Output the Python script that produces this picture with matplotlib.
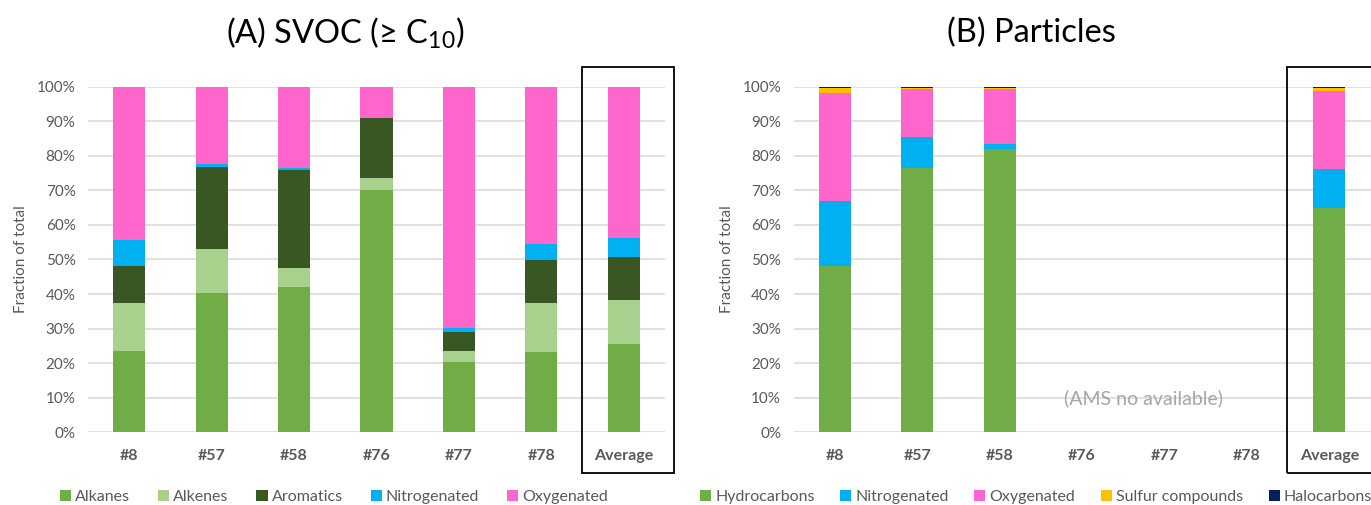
import matplotlib
matplotlib.use('agg')
import matplotlib.pyplot as plt
from matplotlib.patches import Rectangle, Patch
import numpy as np

plt.rcParams['font.family'] = ['Lato', 'DejaVu Sans']
plt.rcParams['mathtext.default'] = 'regular'

samples = ['#8', '#57', '#58', '#76', '#77', '#78', 'Average']

# SVOC (>= C10) composition, fraction of total
svoc_alkanes   = [0.235, 0.404, 0.420, 0.701, 0.204, 0.233, 0.255]
svoc_alkenes   = [0.140, 0.127, 0.054, 0.035, 0.031, 0.140, 0.128]
svoc_aromatics = [0.107, 0.237, 0.284, 0.174, 0.055, 0.126, 0.124]
svoc_nitrogen  = [0.074, 0.009, 0.007, 0.000, 0.013, 0.047, 0.056]
svoc_oxygen    = [0.444, 0.223, 0.235, 0.090, 0.697, 0.454, 0.437]

# particle phase composition (AMS), no data for #76-#78
pm_hydrocarbons = [0.481, 0.766, 0.821, 0, 0, 0, 0.650]
pm_nitrogen     = [0.188, 0.088, 0.014, 0, 0, 0, 0.111]
pm_oxygen       = [0.314, 0.138, 0.159, 0, 0, 0, 0.227]
pm_sulfur       = [0.014, 0.005, 0.003, 0, 0, 0, 0.008]
pm_halo         = [0.003, 0.003, 0.003, 0, 0, 0, 0.004]

svoc_series = [('Alkanes', svoc_alkanes, '#70AD47'),
               ('Alkenes', svoc_alkenes, '#A9D18E'),
               ('Aromatics', svoc_aromatics, '#385723'),
               ('Nitrogenated', svoc_nitrogen, '#00B0F0'),
               ('Oxygenated', svoc_oxygen, '#FF66CC')]
pm_series = [('Hydrocarbons', pm_hydrocarbons, '#70AD47'),
             ('Nitrogenated', pm_nitrogen, '#00B0F0'),
             ('Oxygenated', pm_oxygen, '#FF66CC'),
             ('Sulfur compounds', pm_sulfur, '#FFC000'),
             ('Halocarbons', pm_halo, '#002060')]

gray = '#595959'
fig = plt.figure(figsize=(13.71, 5.05), dpi=100)
ax1 = fig.add_axes([0.0642, 0.144, 0.4209, 0.6844])
ax2 = fig.add_axes([0.5788, 0.144, 0.4209, 0.6844])


def stacked(ax, series, title, title_x, legend_x, colsp):
    x = np.arange(len(samples))
    bottom = np.zeros(len(samples))
    handles = []
    for name, vals, col in series:
        vals = np.array(vals, dtype=float)
        ax.bar(x, vals, 0.39, bottom=bottom, color=col, linewidth=0, zorder=3)
        bottom += vals
        handles.append(Patch(facecolor=col, label=name))
    ax.set_xlim(-0.5, 6.5)
    ax.set_ylim(0, 1)
    ax.set_yticks(np.arange(0, 1.01, 0.1))
    ax.set_yticklabels(['%d%%' % v for v in range(0, 101, 10)])
    ax.set_xticks(x)
    ax.set_xticklabels(samples, fontweight='bold')
    ax.tick_params(length=0, colors=gray, labelsize=11)
    ax.tick_params(axis='x', pad=12, labelsize=11.5)
    ax.tick_params(axis='y', pad=9)
    ax.grid(axis='y', color='#D9D9D9', linewidth=1.1, zorder=0)
    for s in ax.spines.values():
        s.set_visible(False)
    ax.set_ylabel('Fraction of total', color=gray, fontsize=11, labelpad=6)
    fig.text(title_x, 1 - 33 / 505, title, ha='center', va='center', fontsize=23.5)
    # frame around the average column
    ax.add_patch(Rectangle((5.49, -0.118), 1.12, 1.176, transform=ax.transData,
                           fill=False, edgecolor='black', linewidth=1.3,
                           clip_on=False, zorder=4))
    fig.legend(handles=handles, loc='center', bbox_to_anchor=(legend_x, 0.016),
               ncol=5, frameon=False, fontsize=11.5, handlelength=0.7,
               handleheight=0.7, handletextpad=0.25, columnspacing=colsp,
               labelcolor=gray)


stacked(ax1, svoc_series, '(A) SVOC (≥ C$_{10}$)', 345 / 1371, 334 / 1371, 1.75)
stacked(ax2, pm_series, '(B) Particles', 1031 / 1371, 1036 / 1371, 1.6)
ax2.text(3.75, 0.1, '(AMS no available)', ha='center', va='center',
         color='#A6A6A6', fontsize=14, zorder=5)

fig.savefig('out.png', dpi=100)
